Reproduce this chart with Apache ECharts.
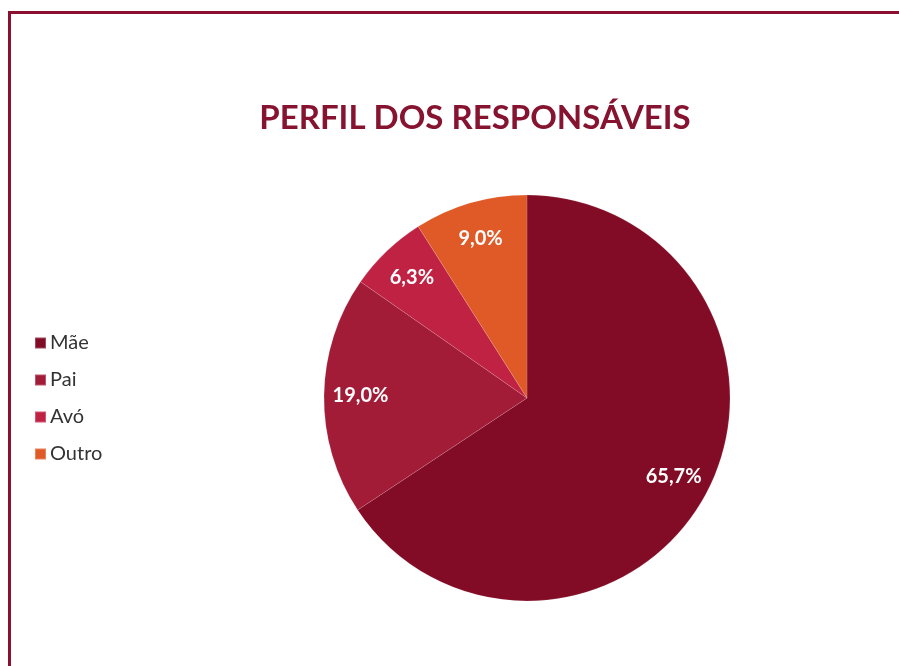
<!DOCTYPE html>
<html>
<head>
<meta charset="utf-8">
<script src="https://cdn.jsdelivr.net/npm/echarts@6/dist/echarts.min.js"></script>
<style>
  html, body { margin: 0; padding: 0; background: #fff; }
  #perfil_pie { width: 899px; height: 666px; }
</style>
</head>
<body>
<div id="perfil_pie"></div>
<script>
  // dados do gráfico
  const categorias = ['Mãe', 'Pai', 'Avó', 'Outro'];
  const valores = [65.7, 19.0, 6.3, 9.0];
  const cores = ['#820c25', '#a31c37', '#c02243', '#e05a27'];

  const dataList = categorias.map((name, i) => ({ value: valores[i], name: name }));

  const myChart = echarts.init(document.getElementById('perfil_pie'));
  const option = {
    backgroundColor: '#fff',
    animation: false,
    color: cores,
    title: {
      text: 'PERFIL DOS RESPONSÁVEIS',
      left: 470,
      top: 97,
      textAlign: 'center',
      textStyle: {
        color: '#861430',
        fontFamily: 'Lato',
        fontWeight: 'bold',
        fontSize: 33
      }
    },
    legend: {
      orient: 'vertical',
      left: 34,
      top: 333,
      padding: 0,
      data: categorias,
      selectedMode: false,
      icon: 'rect',
      itemWidth: 11,
      itemHeight: 11,
      itemGap: 17,
      textStyle: {
        color: '#333',
        fontFamily: 'Lato',
        fontSize: 20,
        padding: [0, 0, 0, -1]
      }
    },
    graphic: [
      {
        type: 'rect',
        shape: { x: 9.5, y: 12.5, width: 1000, height: 1000 },
        style: { fill: 'none', stroke: '#8b1030', lineWidth: 3 },
        silent: true
      }
    ],
    series: [
      {
        name: 'Perfil',
        type: 'pie',
        radius: [0, 203],
        center: [527, 398],
        startAngle: 90,
        clockwise: true,
        label: { show: false },
        labelLine: { show: false },
        itemStyle: { borderColor: 'rgba(255,255,255,0.25)', borderWidth: 0.5 },
        data: dataList
      },
      {
        // só os rótulos, mais perto da borda
        name: 'Rotulos',
        type: 'pie',
        radius: [124, 203],
        center: [527, 398],
        startAngle: 90,
        clockwise: true,
        silent: true,
        legendHoverLink: false,
        itemStyle: { color: 'rgba(0,0,0,0)' },
        label: {
          show: true,
          position: 'inside',
          color: '#fff',
          fontFamily: 'Lato',
          fontWeight: 'bold',
          fontSize: 20,
          formatter: function (p) {
            return p.value.toFixed(1).replace('.', ',') + '%';
          }
        },
        labelLine: { show: false },
        data: dataList.map(d => ({ value: d.value, name: d.name + ' ' }))
      }
    ]
  };
  myChart.setOption(option);
</script>
</body>
</html>
